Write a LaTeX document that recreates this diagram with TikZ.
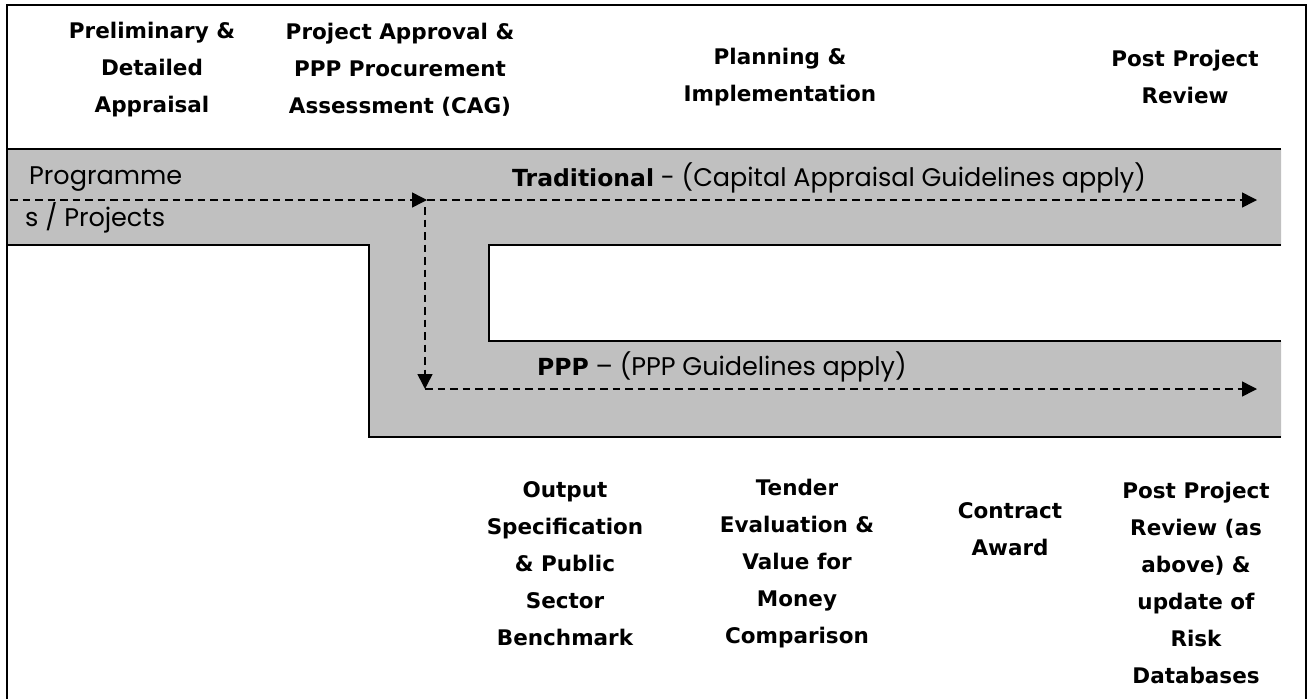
\documentclass[tikz,border=0pt]{standalone}
\usepackage{fontspec}
\setmainfont{DejaVu Sans}
\newfontfamily\bandfont{Poppins}
\usetikzlibrary{arrows.meta}
\definecolor{bandgrey}{RGB}{192,192,192}
\newcommand{\bandbold}[1]{{\rmfamily\bfseries\fontsize{23.5}{28}\selectfont #1}}
\begin{document}
\begin{tikzpicture}[x=1pt,y=-1pt,
  head/.style={align=center, font=\bfseries\fontsize{21.5}{37}\selectfont, inner sep=0pt},
  band/.style={font=\bandfont\fontsize{25.5}{28}\selectfont, inner sep=0pt},
  flow/.style={dash pattern=on 7.5pt off 5pt, line width=1.5pt, -{Triangle[length=15pt,width=15pt]}},
  outline/.style={line width=1.6pt}
]
\useasboundingbox (0,0) rectangle (1311,699);
% grey band shape
\fill[bandgrey] (7,149) -- (1281,149) -- (1281,245) -- (489,245) -- (489,341) -- (1281,341) -- (1281,437) -- (369,437) -- (369,245) -- (7,245) -- cycle;
\draw[outline] (7,149) -- (1281,149);
\draw[outline] (1281,245) -- (489,245) -- (489,341) -- (1281,341);
\draw[outline] (1281,437) -- (369,437) -- (369,245) -- (7,245);
% frame
\draw[line width=2pt] (7,699) -- (7,5) -- (1306,5) -- (1306,460);
\draw[line width=1.4pt] (1306,460) -- (1306,699);
% headers
\begin{scope}
\clip (0,0) rectangle (1311,117);
\node[head] (prelim) at (152,70) {Preliminary \&\\Detailed\\Appraisal};
\node[head] (approval) at (400,70) {Project Approval \&\\PPP Procurement\\Assessment (CAG)};
\end{scope}
\node[head] (planning) at (780,77) {Planning \&\\Implementation};
\node[head] (review) at (1185,77) {Post Project\\Review};
% bottom labels
\node[head] (output) at (565,564) {Output\\Specification\\\& Public\\Sector\\Benchmark};
\node[head] (tender) at (797,564) {Tender\\Evaluation \&\\Value for\\Money\\Comparison};
\node[head] (contract) at (1010,529) {Contract\\Award};
\node[head] (ppreview) at (1196,583) {Post Project\\Review (as\\above) \&\\update of\\Risk\\Databases};
% band texts
\node[band, anchor=west] (prog1) at (29,179) {Programme};
\node[band, anchor=west] (prog2) at (25,218) {s / Projects};
\node[band, anchor=west] (trad) at (512,178) {\bandbold{Traditional} - (Capital Appraisal Guidelines apply)};
\node[band, anchor=west] (ppp) at (537,367) {\bandbold{PPP} – (PPP Guidelines apply)};
% flow arrows
\coordinate (src) at (10,200);
\coordinate (split) at (427,200);
\coordinate (tradend) at (1257,200);
\coordinate (splitlow) at (425,207);
\coordinate (pppcorner) at (425,389);
\coordinate (pppend) at (1257,389);
\draw[flow] (src) -- (split);
\draw[flow] (split) -- (tradend);
\draw[flow] (splitlow) -- (pppcorner);
\draw[flow] (pppcorner) -- (pppend);
\end{tikzpicture}
\end{document}
